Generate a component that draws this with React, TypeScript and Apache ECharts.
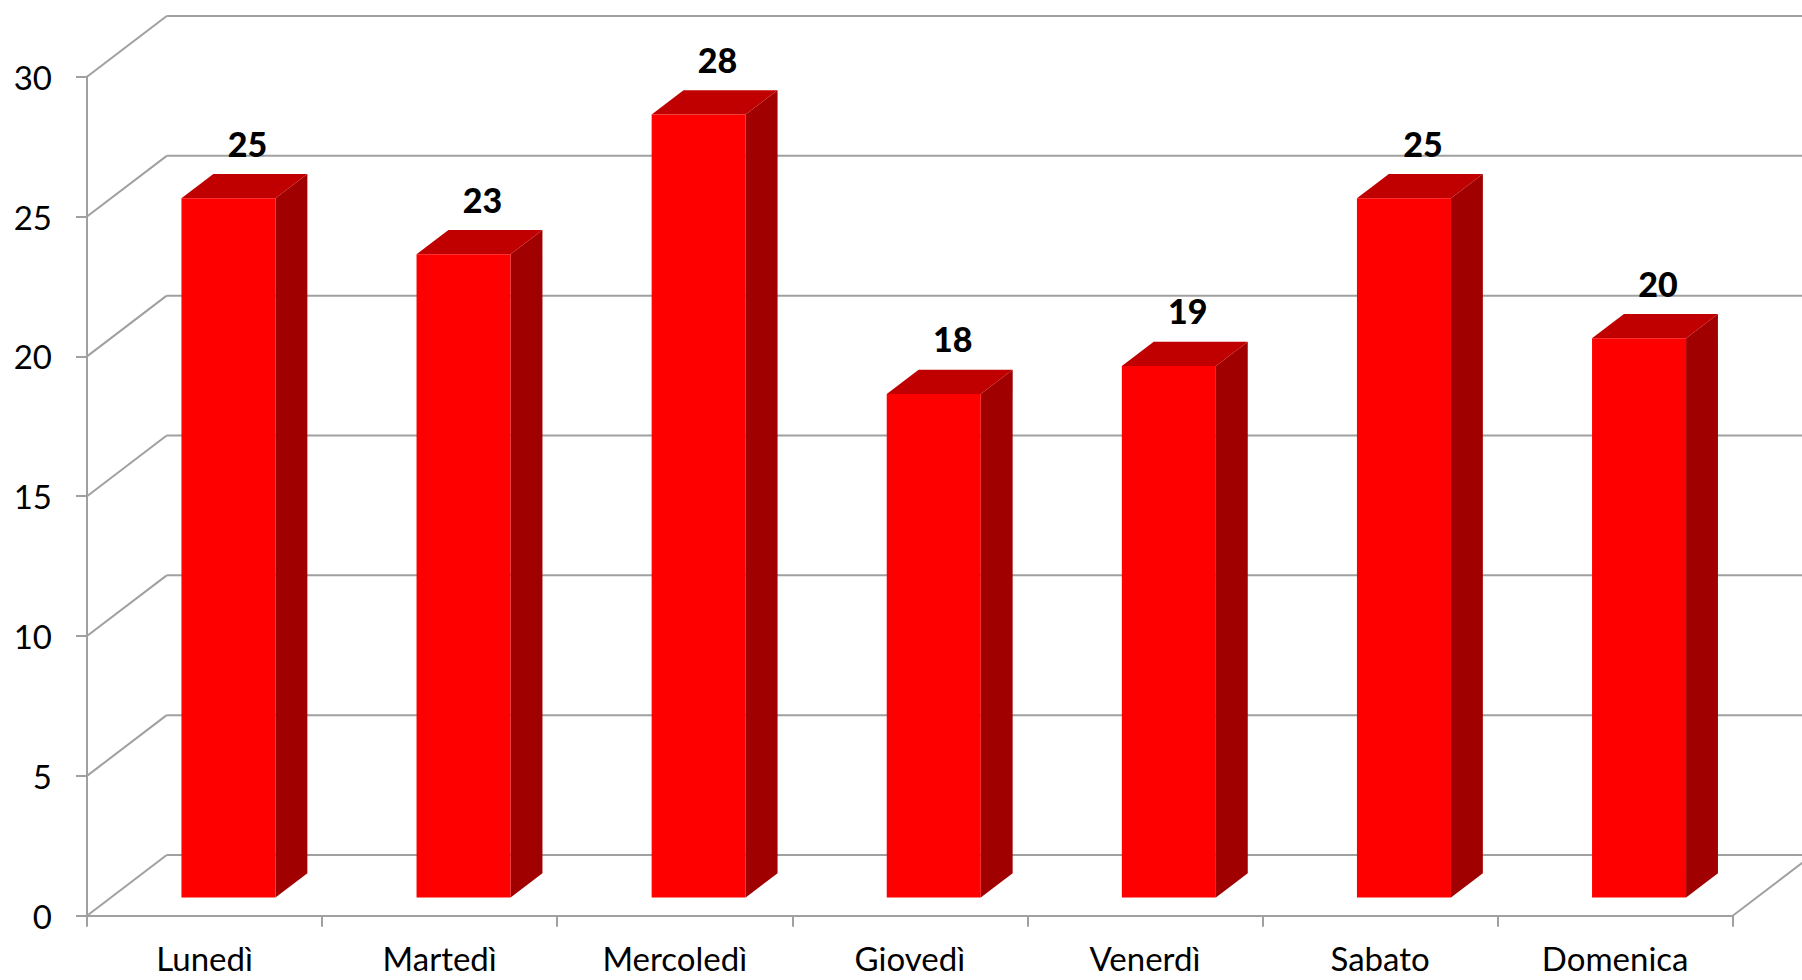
import React, { useEffect, useRef } from "react";
import * as echarts from "echarts";

const categories = ["Lunedì", "Martedì", "Mercoledì", "Giovedì", "Venerdì", "Sabato", "Domenica"];
const values = [25, 23, 28, 18, 19, 25, 20];
const yTicks = [0, 5, 10, 15, 20, 25, 30];

const DEPTH_X = 79.7;
const DEPTH_Y = -60.7;
const BAR_FRONT = 0.3;
const BAR_BACK = 0.7;
const BAR_WIDTH_RATIO = 0.4;
const GRID_COLOR = "#A0A0A0";
const FONT = "Lato";

export default function App() {
  const ref = useRef<HTMLDivElement>(null);
  useEffect(() => {
    const chart = echarts.init(ref.current!, null, { renderer: "svg" });
    const lineStyle = { color: GRID_COLOR, width: 2 };
    chart.setOption({
      animation: false,
      backgroundColor: "#ffffff",
      grid: { left: 87, right: 69.3, top: 76.7, bottom: 64.3 },
      xAxis: {
        type: "category",
        data: categories,
        axisLine: { show: true, lineStyle },
        axisTick: { show: true, length: 11, lineStyle },
        axisLabel: { color: "#000", fontSize: 33, lineHeight: 30, fontFamily: FONT, margin: 27 },
        z: 3,
      },
      yAxis: {
        type: "value",
        min: 0,
        max: 30,
        interval: 5,
        axisLine: { show: true, lineStyle },
        axisTick: { show: true, length: 11, lineStyle },
        splitLine: { show: false },
        axisLabel: { color: "#000", fontSize: 33, fontFamily: FONT, margin: 35 },
        z: 3,
      },
      series: [
        {
          type: "custom",
          z: 1,
          silent: true,
          clip: false,
          data: yTicks.map((t) => [0, t]),
          renderItem: (params: any, api: any) => {
            const cs = params.coordSys;
            const y = api.coord([0, api.value(1)])[1];
            const left = cs.x;
            const right = cs.x + cs.width;
            const st = { stroke: GRID_COLOR, lineWidth: 2 };
            const children: any[] = [
              { type: "line", shape: { x1: left, y1: y, x2: left + DEPTH_X, y2: y + DEPTH_Y }, style: st },
              { type: "line", shape: { x1: left + DEPTH_X, y1: y + DEPTH_Y, x2: right + DEPTH_X, y2: y + DEPTH_Y }, style: st },
            ];
            if (api.value(1) === 0) {
              children.push({ type: "line", shape: { x1: right, y1: y, x2: right + DEPTH_X, y2: y + DEPTH_Y }, style: st });
            }
            return { type: "group", children };
          },
        },
        {
          type: "custom",
          z: 2,
          clip: false,
          data: values.map((v, i) => [i, v]),
          renderItem: (params: any, api: any) => {
            const i = api.value(0);
            const v = api.value(1);
            const top = api.coord([i, v]);
            const base = api.coord([i, 0]);
            const bw = api.size([1, 0])[0];
            const w = bw * BAR_WIDTH_RATIO;
            const cx = top[0];
            const fdx = BAR_FRONT * DEPTH_X, fdy = BAR_FRONT * DEPTH_Y;
            const bdx = BAR_BACK * DEPTH_X, bdy = BAR_BACK * DEPTH_Y;
            const l = cx - w / 2, r = cx + w / 2;
            const ty = top[1], by = base[1];
            return {
              type: "group",
              children: [
                {
                  type: "polygon",
                  shape: { points: [[r + fdx, ty + fdy], [r + bdx, ty + bdy], [r + bdx, by + bdy], [r + fdx, by + fdy]] },
                  style: { fill: "#A00000" },
                },
                {
                  type: "polygon",
                  shape: { points: [[l + fdx, ty + fdy], [r + fdx, ty + fdy], [r + bdx, ty + bdy], [l + bdx, ty + bdy]] },
                  style: { fill: "#C00000" },
                },
                {
                  type: "rect",
                  shape: { x: l + fdx, y: ty + fdy, width: w, height: by - ty },
                  style: { fill: "#FF0000" },
                },
                {
                  type: "text",
                  style: {
                    text: String(v),
                    x: cx + 0.5 * DEPTH_X + 3,
                    y: ty + 0.5 * DEPTH_Y - 43,
                    align: "center",
                    verticalAlign: "middle",
                    fontSize: 34,
                    fontWeight: 900,
                    fontFamily: FONT,
                    fill: "#000",
                  },
                },
              ],
            };
          },
        },
      ],
    });
    return () => chart.dispose();
  }, []);
  return <div ref={ref} style={{ position: "fixed", left: 0, top: 0, width: 1802, height: 980 }} />;
}
